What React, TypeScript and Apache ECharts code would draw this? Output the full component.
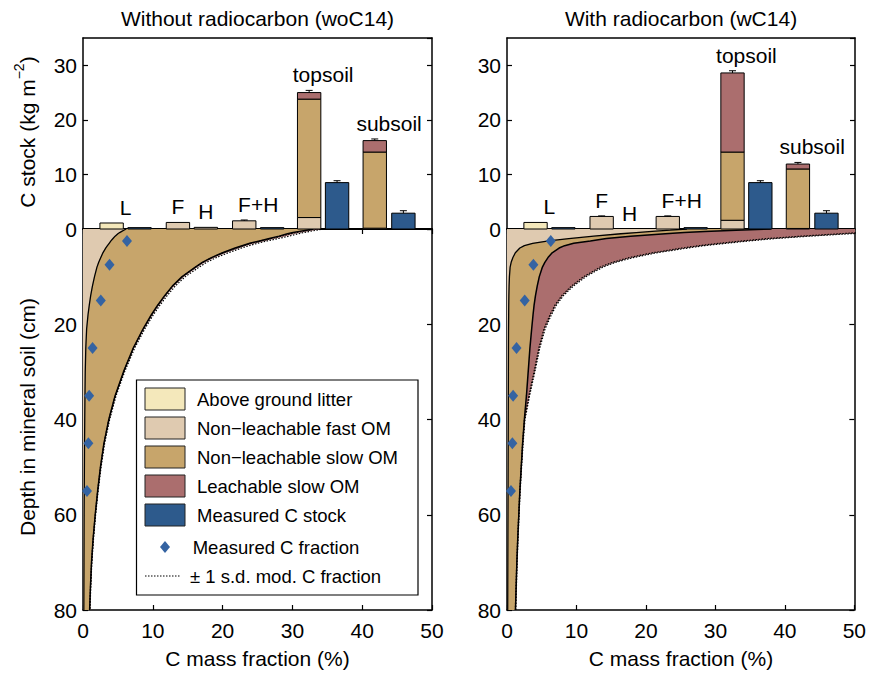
import React, { useEffect, useRef } from "react";
import * as echarts from "echarts";

const FONT = "'Liberation Sans', Arial, Helvetica, sans-serif";

// Depth grid (cm) for the modelled profiles
const depthCm = [0, 0.25, 0.5, 0.75, 1, 1.5, 2, 2.5, 3, 3.5, 4, 5, 6, 7, 8, 10, 12, 14, 16, 18, 21, 25, 30, 35, 40, 45, 50, 55, 60, 65, 70, 75, 80];

// Without radiocarbon: cumulative C mass fraction (%) at each depth
const woFastEdge = [6.2, 5.85, 5.55, 5.25, 5.0, 4.6, 4.3, 4.0, 3.75, 3.5, 3.25, 2.85, 2.55, 2.25, 2.0, 1.65, 1.35, 1.1, 0.9, 0.72, 0.52, 0.4, 0.32, 0.28, 0.25, 0.22, 0.2, 0.18, 0.16, 0.15, 0.14, 0.13, 0.12];
const woSlowEdge = [33.0, 32.0, 31.0, 30.1, 29.3, 28.1, 26.7, 25.3, 23.9, 22.8, 21.8, 20.0, 18.4, 17.1, 16.1, 14.2, 12.8, 11.7, 10.7, 9.8, 8.6, 7.2, 5.8, 4.6, 3.7, 3.0, 2.5, 2.1, 1.75, 1.45, 1.22, 1.07, 0.95];
const woTotalEdge = [33.9, 32.9, 31.9, 31.0, 30.2, 28.9, 27.4, 25.9, 24.5, 23.3, 22.3, 20.4, 18.75, 17.4, 16.35, 14.4, 12.97, 11.85, 10.84, 9.92, 8.7, 7.28, 5.86, 4.65, 3.74, 3.03, 2.53, 2.12, 1.77, 1.47, 1.24, 1.09, 0.97];
const woSdUpper = [34.5, 33.5, 32.5, 31.6, 30.8, 29.5, 28.0, 26.4, 25.0, 23.8, 22.7, 20.8, 19.1, 17.7, 16.65, 14.65, 13.2, 12.05, 11.02, 10.08, 8.84, 7.4, 5.96, 4.74, 3.82, 3.1, 2.59, 2.17, 1.81, 1.51, 1.27, 1.12, 1.0];
const woSdLower = [33.4, 32.4, 31.4, 30.5, 29.7, 28.4, 27.0, 25.5, 24.1, 23.0, 21.95, 20.1, 18.5, 17.2, 16.15, 14.25, 12.85, 11.75, 10.75, 9.85, 8.64, 7.23, 5.82, 4.62, 3.71, 3.01, 2.51, 2.1, 1.76, 1.46, 1.23, 1.08, 0.96];

// With radiocarbon: cumulative C mass fraction (%) at each depth
const wFastEdge = [25.9, 23.5, 20.9, 18.6, 16.4, 12.5, 8.9, 6.0, 3.7, 2.5, 1.85, 1.2, 0.85, 0.6, 0.45, 0.35, 0.3, 0.27, 0.25, 0.24, 0.22, 0.21, 0.2, 0.19, 0.18, 0.17, 0.16, 0.15, 0.14, 0.13, 0.12, 0.11, 0.1];
const wSlowEdge = [38, 33, 28.5, 25.5, 22.8, 17.8, 14.3, 12.0, 9.6, 8.3, 7.5, 6.5, 5.9, 5.45, 5.1, 4.65, 4.35, 4.1, 3.9, 3.75, 3.55, 3.3, 3.05, 2.8, 2.5, 2.25, 2.05, 1.85, 1.7, 1.55, 1.42, 1.32, 1.22];
const wTotalEdge = [62, 58, 54.5, 51.5, 48.6, 43, 38.1, 34.4, 31.1, 28.0, 25.6, 21.2, 17.9, 15.4, 13.6, 11.2, 9.4, 8.0, 7.0, 6.3, 5.4, 4.65, 3.95, 3.2, 2.55, 2.28, 2.07, 1.87, 1.71, 1.56, 1.43, 1.33, 1.23];
const wSdUpper = [63, 58.9, 55.3, 52.3, 49.3, 43.6, 38.7, 34.9, 31.6, 28.4, 26.0, 21.5, 18.2, 15.6, 13.8, 11.37, 9.54, 8.12, 7.1, 6.4, 5.48, 4.72, 4.01, 3.25, 2.59, 2.32, 2.1, 1.9, 1.74, 1.59, 1.46, 1.36, 1.26];
const wSdLower = [61, 57.1, 53.7, 50.7, 47.9, 42.4, 37.5, 33.9, 30.6, 27.6, 25.2, 20.9, 17.6, 15.2, 13.4, 11.03, 9.26, 7.88, 6.9, 6.2, 5.32, 4.58, 3.89, 3.15, 2.51, 2.24, 2.04, 1.84, 1.68, 1.53, 1.4, 1.3, 1.2];

// Measured C fraction profile
const measDepth = [2.5, 7.5, 15, 25, 35, 45, 55];
const measFraction = [6.3, 3.8, 2.55, 1.37, 0.88, 0.77, 0.57];

// C stock bars (kg m-2), placed along the upper axis
const barPositions = [4.1, 8.1, 13.6, 17.6, 23.1, 27.1, 32.4, 36.4, 41.8, 45.9];
const groupLabels = ["L", "F", "H", "F+H", "topsoil", "subsoil"];
const groupMembers = [[0, 1], [2], [3], [4, 5], [6, 7], [8, 9]];

const woLitter = [1.1, 0, 0, 0, 0, 0, 0, 0, 0, 0];
const woFastStock = [0, 0, 1.2, 0.3, 1.5, 0, 2.1, 0, 0.15, 0];
const woSlowStock = [0, 0, 0, 0, 0, 0, 21.7, 0, 13.95, 0];
const woLeachStock = [0, 0, 0, 0, 0, 0, 1.2, 0, 2.1, 0];
const woMeasured = [0, 0.25, 0, 0, 0, 0.25, 0, 8.5, 0, 2.9];
const woError = [0, 0, 0, 0, 0.15, 0, 0.4, 0.35, 0.3, 0.45];

const wLitter = [1.2, 0, 0, 0, 0, 0, 0, 0, 0, 0];
const wFastStock = [0, 0, 2.3, 0, 2.3, 0, 1.6, 0, 0.1, 0];
const wSlowStock = [0, 0, 0, 0, 0, 0, 12.5, 0, 10.9, 0];
const wLeachStock = [0, 0, 0, 0, 0, 0, 14.5, 0, 0.9, 0];
const wMeasured = [0, 0.25, 0, 0, 0, 0.25, 0, 8.5, 0, 2.9];
const wError = [0, 0, 0.1, 0, 0.1, 0, 0.4, 0.35, 0.3, 0.45];

const C_LITTER = "#f4e8bb";
const C_FAST = "#dfcab0";
const C_SLOW = "#c7a56b";
const C_LEACH = "#ab6e6e";
const C_MEAS = "#2d5a8c";
const C_DIAMOND = "#3463a2";
const SEG_COLORS = [C_LITTER, C_FAST, C_SLOW, C_LEACH, C_MEAS];
const BAR_W = 3.35;

interface PanelData {
  fast: number[]; slow: number[]; total: number[]; sdUp: number[]; sdLo: number[];
  litter: number[]; fastS: number[]; slowS: number[]; leachS: number[]; meas: number[]; err: number[];
}

const panels: { left: number; width: number; title: string; d: PanelData }[] = [
  {
    left: 83, width: 349, title: "Without radiocarbon (woC14)",
    d: { fast: woFastEdge, slow: woSlowEdge, total: woTotalEdge, sdUp: woSdUpper, sdLo: woSdLower,
      litter: woLitter, fastS: woFastStock, slowS: woSlowStock, leachS: woLeachStock, meas: woMeasured, err: woError },
  },
  {
    left: 507, width: 348, title: "With radiocarbon (wC14)",
    d: { fast: wFastEdge, slow: wSlowEdge, total: wTotalEdge, sdUp: wSdUpper, sdLo: wSdLower,
      litter: wLitter, fastS: wFastStock, slowS: wSlowStock, leachS: wLeachStock, meas: wMeasured, err: wError },
  },
];

const TOP_Y = 38;
const MID_Y = 229;
const BOT_Y = 610;

function buildOption() {
  const grid: any[] = [];
  const xAxis: any[] = [];
  const yAxis: any[] = [];
  const series: any[] = [];
  const graphic: any[] = [];

  const frameLine = { show: true, onZero: false, lineStyle: { color: "#000", width: 1.5 } };
  const tickIn = { show: true, inside: true, length: 5, lineStyle: { color: "#000", width: 1.2 } };
  const noSplit = { show: false };
  const label21 = { fontSize: 21, color: "#000", fontFamily: FONT };

  panels.forEach((p, idx) => {
    const gTop = idx * 2;
    const gBot = idx * 2 + 1;
    grid.push({ left: p.left, top: TOP_Y, width: p.width, height: MID_Y - TOP_Y });
    grid.push({ left: p.left, top: MID_Y, width: p.width, height: BOT_Y - MID_Y });

    const xb = xAxis.length;
    xAxis.push({ gridIndex: gTop, type: "value", min: 0, max: 50, show: false });
    xAxis.push({ gridIndex: gTop, type: "value", min: 0, max: 50, position: "top", axisLine: frameLine, axisTick: { show: false }, axisLabel: { show: false }, splitLine: noSplit });
    xAxis.push({ gridIndex: gBot, type: "value", min: 0, max: 50, interval: 10, position: "bottom", axisLine: frameLine, axisTick: tickIn, axisLabel: { ...label21, margin: 10 }, splitLine: noSplit });
    xAxis.push({ gridIndex: gBot, type: "value", min: 0, max: 50, interval: 10, position: "top", axisLine: { show: true, onZero: false, lineStyle: { color: "#000", width: 2 } }, axisTick: tickIn, axisLabel: { show: false }, splitLine: noSplit });

    const yb = yAxis.length;
    yAxis.push({ gridIndex: gTop, type: "value", min: 0, max: 35, interval: 10, position: "left", axisLine: frameLine, axisTick: tickIn, axisLabel: { ...label21, margin: 6, showMaxLabel: false }, splitLine: noSplit });
    yAxis.push({ gridIndex: gTop, type: "value", min: 0, max: 35, interval: 10, position: "right", axisLine: frameLine, axisTick: tickIn, axisLabel: { show: false }, splitLine: noSplit });
    yAxis.push({ gridIndex: gBot, type: "value", min: 0, max: 80, interval: 20, inverse: true, position: "left", axisLine: frameLine, axisTick: tickIn, axisLabel: { ...label21, margin: 6, showMinLabel: false }, splitLine: noSplit });
    yAxis.push({ gridIndex: gBot, type: "value", min: 0, max: 80, interval: 20, inverse: true, position: "right", axisLine: frameLine, axisTick: tickIn, axisLabel: { show: false }, splitLine: noSplit });

    const d = p.d;

    // ---- stacked C stock bars ----
    const segs: number[][] = [];
    const errs: number[][] = [];
    const tops: number[] = [];
    barPositions.forEach((x, i) => {
      const parts = [d.litter[i], d.fastS[i], d.slowS[i], d.leachS[i], d.meas[i]];
      let base = 0;
      parts.forEach((v, k) => {
        if (v > 0) {
          segs.push([x, base, base + v, k]);
          base += v;
        }
      });
      if (d.err[i] > 0) errs.push([x, base, base + d.err[i]]);
      tops.push(base + d.err[i]);
    });

    series.push({
      type: "custom", xAxisIndex: xb, yAxisIndex: yb, z: 4, silent: true, data: segs,
      renderItem: (_: any, api: any) => {
        const x = api.value(0);
        const a = api.coord([x - BAR_W / 2, api.value(1)]);
        const b = api.coord([x + BAR_W / 2, api.value(2)]);
        return {
          type: "rect",
          shape: { x: a[0], y: b[1], width: b[0] - a[0], height: a[1] - b[1] },
          style: { fill: SEG_COLORS[api.value(3)], stroke: "#000", lineWidth: 1 },
        };
      },
    });

    series.push({
      type: "custom", xAxisIndex: xb, yAxisIndex: yb, z: 4, silent: true, data: errs,
      renderItem: (_: any, api: any) => {
        const x = api.value(0);
        const a = api.coord([x, api.value(1)]);
        const b = api.coord([x, api.value(2)]);
        return {
          type: "group",
          children: [
            { type: "line", shape: { x1: a[0], y1: a[1], x2: b[0], y2: b[1] }, style: { stroke: "#000", lineWidth: 1 } },
            { type: "line", shape: { x1: b[0] - 3.5, y1: b[1], x2: b[0] + 3.5, y2: b[1] }, style: { stroke: "#000", lineWidth: 1 } },
          ],
        };
      },
    });

    // group labels above bars
    const labelData = groupLabels.map((name, g) => {
      const mem = groupMembers[g];
      const cx = mem.reduce((s, i) => s + barPositions[i], 0) / mem.length;
      const cy = Math.max(...mem.map((i) => tops[i]));
      return { name, value: [cx, cy] };
    });
    series.push({
      type: "scatter", xAxisIndex: xb, yAxisIndex: yb, symbolSize: 0, silent: true, z: 6,
      itemStyle: { opacity: 1 },
      data: labelData,
      label: { show: true, position: "top", distance: 5, formatter: "{b}", fontSize: 21, color: "#000", opacity: 1, fontFamily: FONT },
    });

    // ---- modelled C fraction profiles ----
    const xi = xb + 2;
    const yi = yb + 2;
    const axisEdge = depthCm.map(() => 0);
    const band = (inner: number[], outer: number[], color: string) => ({
      type: "custom", xAxisIndex: xi, yAxisIndex: yi, clip: true, silent: true, z: 1,
      data: [[0, 0]],
      renderItem: (_: any, api: any) => {
        const pts: number[][] = [];
        depthCm.forEach((dep, i) => pts.push(api.coord([outer[i], dep])));
        for (let i = depthCm.length - 1; i >= 0; i--) pts.push(api.coord([inner[i], depthCm[i]]));
        return { type: "polygon", shape: { points: pts }, style: { fill: color, stroke: color, lineWidth: 0.5 } };
      },
    });
    series.push(band(axisEdge, d.fast, C_FAST));
    series.push(band(d.fast, d.slow, C_SLOW));
    series.push(band(d.slow, d.total, C_LEACH));

    const curve = (vals: number[], width: number, type: any) => ({
      type: "line", xAxisIndex: xi, yAxisIndex: yi, clip: true, silent: true, z: 3,
      symbol: "none", showSymbol: false,
      data: depthCm.map((dep, i) => [vals[i], dep]),
      lineStyle: { color: "#000", width, type },
    });
    series.push(curve(d.fast, 1.3, "solid"));
    series.push(curve(d.slow, 1.5, "solid"));
    series.push(curve(d.sdLo, 1.2, [1.5, 1.5]));
    series.push(curve(d.sdUp, 1.2, [1.5, 1.5]));

    series.push({
      type: "scatter", xAxisIndex: xi, yAxisIndex: yi, z: 5, silent: true,
      symbol: "diamond", symbolSize: [10, 12],
      itemStyle: { color: C_DIAMOND, opacity: 1 },
      data: measFraction.map((x, i) => [x, measDepth[i]]),
    });

    // panel title and x-axis name
    const cx = p.left + p.width / 2;
    graphic.push({ type: "text", x: cx, y: 18, style: { text: p.title, fontSize: 21, fontFamily: FONT, fill: "#000", align: "center", verticalAlign: "middle" } });
    graphic.push({ type: "text", x: cx, y: 658, style: { text: "C mass fraction (%)", fontSize: 21, fontFamily: FONT, fill: "#000", align: "center", verticalAlign: "middle" } });
  });

  // y-axis names
  graphic.push({
    type: "text", x: 27, y: 132, rotation: Math.PI / 2,
    style: {
      text: "{a|C stock (kg m}{b|−2}{a|)}",
      align: "center", verticalAlign: "middle", fill: "#000",
      rich: {
        a: { fontSize: 21, fontFamily: FONT, fill: "#000", lineHeight: 22, verticalAlign: "bottom" },
        b: { fontSize: 14, fontFamily: FONT, fill: "#000", lineHeight: 14, padding: [0, 0, 12, 0], verticalAlign: "bottom" },
      },
    },
  });
  graphic.push({
    type: "text", x: 27, y: 417, rotation: Math.PI / 2,
    style: { text: "Depth in mineral soil (cm)", fontSize: 21, fontFamily: FONT, fill: "#000", align: "center", verticalAlign: "middle" },
  });

  // legend
  const lgX = 136.5, lgY = 380, lgW = 281.5, lgH = 215;
  graphic.push({ type: "rect", shape: { x: lgX, y: lgY, width: lgW, height: lgH }, style: { fill: "#fff", stroke: "#000", lineWidth: 1.2 }, z: 10 });
  const patchItems = [
    ["Above ground litter", C_LITTER],
    ["Non\u2212leachable fast OM", C_FAST],
    ["Non\u2212leachable slow OM", C_SLOW],
    ["Leachable slow OM", C_LEACH],
    ["Measured C stock", C_MEAS],
  ];
  const rowY = [399, 428, 457, 486, 515];
  patchItems.forEach(([name, color], i) => {
    graphic.push({ type: "rect", z: 11, shape: { x: 145, y: rowY[i] - 11, width: 40, height: 22 }, style: { fill: color, stroke: "#222", lineWidth: 1 } });
    graphic.push({ type: "text", z: 11, x: 197, y: rowY[i], style: { text: name, fontSize: 18.5, fontFamily: FONT, fill: "#000", verticalAlign: "middle" } });
  });
  graphic.push({ type: "polygon", z: 11, shape: { points: [[165, 541], [170, 547], [165, 553], [160, 547]] }, style: { fill: C_DIAMOND } });
  graphic.push({ type: "text", z: 11, x: 192.7, y: 547, style: { text: "Measured C fraction", fontSize: 18.5, fontFamily: FONT, fill: "#000", verticalAlign: "middle" } });
  graphic.push({ type: "line", z: 11, shape: { x1: 145, y1: 576, x2: 181, y2: 576 }, style: { stroke: "#000", lineWidth: 1.2, lineDash: [1.5, 1.5] } });
  graphic.push({ type: "text", z: 11, x: 190, y: 576, style: { text: "\u00b1 1 s.d. mod. C fraction", fontSize: 18.5, fontFamily: FONT, fill: "#000", verticalAlign: "middle" } });

  return {
    animation: false,
    backgroundColor: "#fff",
    textStyle: { fontFamily: FONT },
    grid, xAxis, yAxis, series, graphic,
  };
}

export default function App() {
  const ref = useRef<HTMLDivElement>(null);
  useEffect(() => {
    if (!ref.current) return;
    const chart = echarts.init(ref.current, undefined, { renderer: "svg" });
    chart.setOption(buildOption() as any);
    return () => chart.dispose();
  }, []);
  return <div ref={ref} style={{ position: "fixed", left: 0, top: 0, width: 869, height: 674 }} />;
}
